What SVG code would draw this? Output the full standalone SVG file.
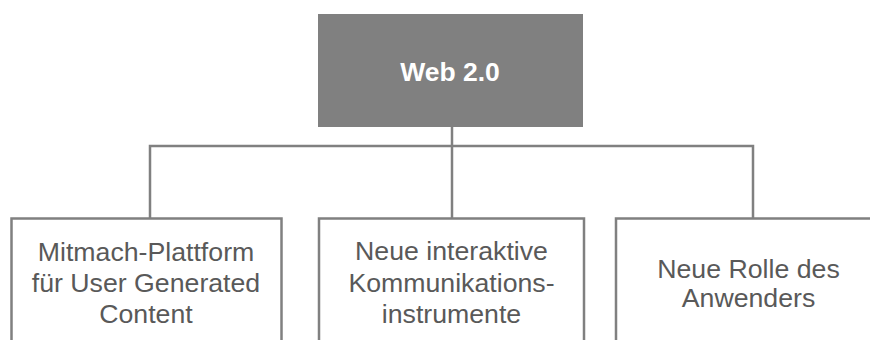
<svg xmlns="http://www.w3.org/2000/svg" width="870" height="340" viewBox="0 0 870 340">
<style>
.box{fill:#fff;stroke:#808080;stroke-width:2.5}
.top{fill:#808080}
.conn{fill:none;stroke:#808080;stroke-width:2.5}
.t{font-family:"Liberation Sans",Arial,sans-serif;font-size:26.7px;fill:#595959;text-anchor:middle}
.tw{font-family:"Liberation Sans",Arial,sans-serif;font-size:26.5px;font-weight:bold;fill:#fff;text-anchor:middle}
</style>
<rect width="870" height="340" fill="#fff"/>
<g id="connectors">
<line class="conn" x1="452" y1="127" x2="452" y2="218"/>
<polyline class="conn" points="150,218 150,146 753,146 753,218"/>
</g>
<g id="web20">
<rect class="top" x="318" y="14" width="265" height="113"/>
<text class="tw" x="450" y="80.5">Web 2.0</text>
</g>
<g id="mitmach">
<rect class="box" x="11.5" y="218.5" width="270" height="140"/>
<text class="t" x="146" y="261">Mitmach-Plattform</text>
<text class="t" x="146" y="292">für User Generated</text>
<text class="t" x="146" y="323">Content</text>
</g>
<g id="kommunikation">
<rect class="box" x="319" y="218.5" width="265" height="140"/>
<text class="t" x="451.5" y="260">Neue interaktive</text>
<text class="t" x="451.5" y="291.5">Kommunikations-</text>
<text class="t" x="451.5" y="322.5">instrumente</text>
</g>
<g id="anwender">
<rect class="box" x="616" y="218.5" width="265" height="140"/>
<text class="t" x="748.5" y="277.5">Neue Rolle des</text>
<text class="t" x="748.5" y="306.5">Anwenders</text>
</g>
</svg>
